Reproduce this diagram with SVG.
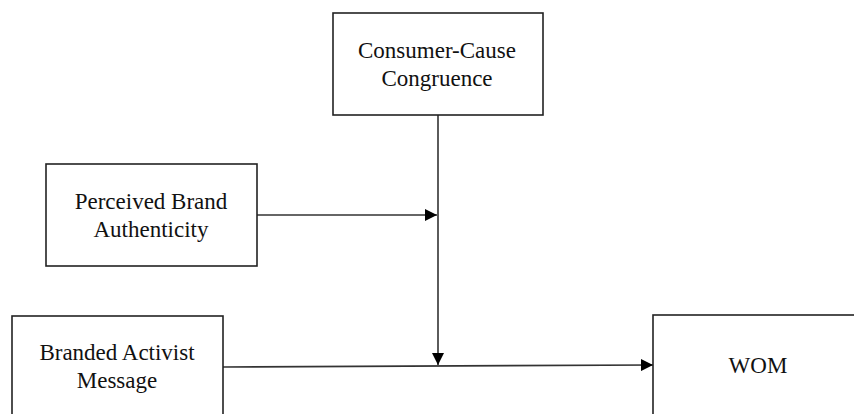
<svg xmlns="http://www.w3.org/2000/svg" width="854" height="414" viewBox="0 0 854 414">
<style>
.box{fill:#fff;stroke:#222;stroke-width:1.6}
.t{font-family:"Liberation Serif","Times New Roman",serif;font-size:23px;fill:#111;text-anchor:middle}
.c{stroke:#333;stroke-width:1.6;fill:none}
</style>
<defs>
<marker id="ah" viewBox="0 0 12 12" refX="12" refY="6" markerWidth="12" markerHeight="12" markerUnits="userSpaceOnUse" orient="auto">
<path d="M0,0 L12,6 L0,12 Z" fill="#000"/>
</marker>
</defs>
<rect width="854" height="414" fill="#fff"/>
<g id="connectors">
<line class="c" x1="438" y1="115" x2="438" y2="365" marker-end="url(#ah)"/>
<line class="c" x1="257" y1="215" x2="437" y2="215" marker-end="url(#ah)"/>
<line class="c" x1="223" y1="367" x2="653" y2="365" marker-end="url(#ah)"/>
</g>
<g id="consumer">
<rect class="box" x="333" y="13" width="210" height="102"/>
<text class="t" x="437" y="58">Consumer-Cause</text>
<text class="t" x="437" y="86">Congruence</text>
</g>
<g id="perceived">
<rect class="box" x="46" y="164" width="211" height="102"/>
<text class="t" x="151" y="209">Perceived Brand</text>
<text class="t" x="151" y="237">Authenticity</text>
</g>
<g id="branded">
<rect class="box" x="12" y="316" width="211" height="110"/>
<text class="t" x="117" y="360">Branded Activist</text>
<text class="t" x="117" y="388">Message</text>
</g>
<g id="wom">
<rect class="box" x="653" y="315" width="210" height="110"/>
<text class="t" x="758" y="373">WOM</text>
</g>
</svg>
